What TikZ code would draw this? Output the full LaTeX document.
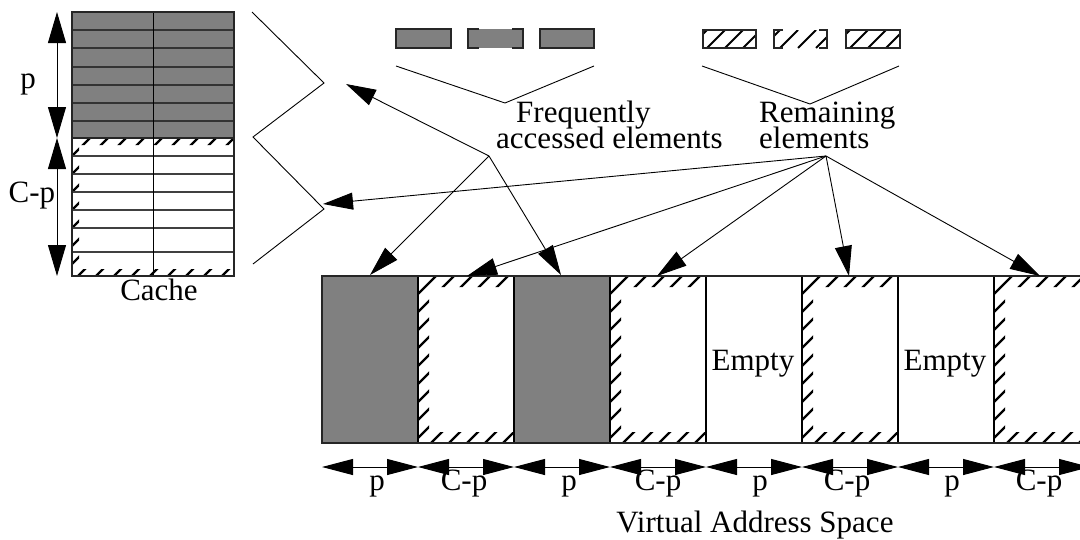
\documentclass[tikz,border=0pt]{standalone}
\usepackage{fontspec}
\setmainfont{Liberation Serif}
\usetikzlibrary{arrows.meta}
\newcommand\lbfont{\fontsize{31}{31}\selectfont}
\tikzset{
  outline/.style={draw=black!85, line width=1.3pt},
  rowline/.style={draw=black!75, line width=1.2pt},
  greyfill/.style={fill=black!50},
  hatchline/.style={line width=2.3pt, draw=black},
  conn/.style={line width=0.9pt, -{Triangle[length=30pt,width=17pt]}},
  dimarrow/.style={line width=1pt, {Triangle[length=31pt,width=16pt]}-{Triangle[length=31pt,width=16pt]}},
  dimarrowv/.style={line width=1pt, {Triangle[length=31pt,width=18pt]}-{Triangle[length=31pt,width=18pt]}},
  lbl/.style={font=\lbfont, inner sep=0pt, anchor=base},
  lblw/.style={font=\lbfont, inner sep=0pt, anchor=base west},
  thin/.style={line width=0.9pt, draw=black},
}
% hatch only along top, left and bottom edges (strip width #5)
\newcommand\hatchframe[5]{%
  \begin{scope}
    \clip (#1,#2) rectangle (#3,{#2+#5}) (#1,#2) rectangle ({#1+#5},#4) (#1,{#4-#5}) rectangle (#3,#4);
    \pgfmathsetmacro\hh{#4-#2}
    \pgfmathtruncatemacro\nn{(#3-#1+\hh)/18+1}
    \foreach \k in {0,...,\nn} \draw[hatchline] ({#1-\hh+\k*18},{#4}) -- ++(\hh,-\hh);
  \end{scope}}
% fully hatched small box
\newcommand\hatchfull[5]{%
  \begin{scope}
    \clip (#1,#2) rectangle (#3,#4);
    \pgfmathsetmacro\hh{#4-#2}
    \foreach \k in {0,...,5} \draw[hatchline, line width=1.8pt] ({#1-\hh+#5+\k*18},{#4}) -- ++(\hh,-\hh);
  \end{scope}}
\begin{document}
\begin{tikzpicture}[x=1pt,y=-1pt]
\useasboundingbox (0,0) rectangle (1080,539);
\clip (0,0) rectangle (1080,539);

% ---------------- Cache ----------------
\fill[greyfill] (72,12) rectangle (234,138);
\hatchframe{72}{138}{234}{276}{7}
\foreach \y in {30,48,67,85,103,121} \draw[rowline, draw=black!80] (72,\y) -- (234,\y);
\foreach \y in {156,174,192,210,228,252} \draw[rowline] (72,\y) -- (234,\y);
\draw[rowline, draw=black!85] (72,138) -- (234,138);
\draw[thin] (153,12) -- (153,276);
\draw[outline] (72,12) rectangle (234,276);

\coordinate (c0) at (57,12);
\coordinate (c1) at (57,138);
\coordinate (c2) at (57,276);
\draw[dimarrowv] (c0) -- (c1);
\draw[dimarrowv] (c1) -- (c2);
\node[lbl] (lp) at (28,88) {p};
\node[lbl] (lcp) at (32,202) {C-p};
\node[lbl] (lcache) at (159,300) {Cache};

% zigzag
\draw[thin] (252,12) -- (324,83) -- (253,137) -- (324,209) -- (253,264);

% ---------------- top legend ----------------
\fill[greyfill] (396,29) rectangle (451,48);
\draw[outline] (396,29) rectangle (451,48);
\fill[greyfill] (468,29) rectangle (523,48);
\draw[outline] (479,29) -- (468,29) -- (468,48) -- (479,48);
\draw[outline] (512,29) -- (523,29) -- (523,48) -- (512,48);
\fill[greyfill] (540,29) rectangle (594,48);
\draw[outline] (540,29) rectangle (594,48);

\hatchfull{703}{30}{756}{48}{4}
\draw[outline] (703,30) rectangle (756,48);
\hatchfull{774}{30}{827}{48}{6}
\draw[outline] (783,30) -- (774,30) -- (774,48) -- (783,48);
\draw[outline] (819,30) -- (827,30) -- (827,48) -- (819,48);
\hatchfull{846}{30}{900}{48}{4}
\draw[outline] (846,30) rectangle (900,48);

\draw[thin] (396,66) -- (505,103) -- (594,66);
\draw[thin] (702,66) -- (810,104) -- (899,66);

\node[lblw] (tfreq) at (516,122) {Frequently};
\node[lblw] (tacc) at (496,148) {accessed elements};
\node[lblw] (trem) at (759,122) {Remaining};
\node[lblw] (tel) at (759,148) {elements};

% ---------------- virtual address space ----------------
\fill[greyfill] (322,276) rectangle (418,443);
\fill[greyfill] (514,276) rectangle (610,443);
\hatchframe{418}{276}{514}{443}{11}
\hatchframe{610}{276}{706}{443}{11}
\hatchframe{802}{276}{898}{443}{11}
\hatchframe{994}{276}{1090}{443}{11}
\foreach \x in {418,514,610,706,802,898,994} \draw[thin, line width=1.1pt] (\x,276) -- (\x,443);
\draw[outline] (322,276) rectangle (1090,443);
\node[lbl] (e1) at (753,370) {Empty};
\node[lbl] (e2) at (945,370) {Empty};

% dimension arrows
\foreach \i/\x in {0/322,1/418,2/514,3/610,4/706,5/802,6/898,7/994,8/1090}
  \coordinate (b\i) at (\x,467);
\foreach \i [evaluate=\i as \j using int(\i+1)] in {0,...,7}
  \draw[dimarrow] (b\i) -- (b\j);
\node[lbl] at (377,490) {p};
\node[lbl] at (464,490) {C-p};
\node[lbl] at (569,490) {p};
\node[lbl] at (658,490) {C-p};
\node[lbl] at (760,490) {p};
\node[lbl] at (847,490) {C-p};
\node[lbl] at (952,490) {p};
\node[lbl] at (1039,490) {C-p};
\node[lbl] (vas) at (755,532) {Virtual Address Space};

% ---------------- connectors ----------------
\coordinate (fa) at (489,156);
\coordinate (fr) at (826,156);
\coordinate (ta1) at (346,84);
\coordinate (ta2) at (370,275);
\coordinate (ta3) at (561,275);
\coordinate (tr1) at (323,204);
\coordinate (tr2) at (467,276);
\coordinate (tr3) at (657,276);
\coordinate (tr4) at (849,276);
\coordinate (tr5) at (1040,276);
\foreach \t in {ta1,ta2,ta3} \draw[conn] (fa) -- (\t);
\foreach \t in {tr1,tr2,tr3,tr4,tr5} \draw[conn] (fr) -- (\t);
\end{tikzpicture}
\end{document}
